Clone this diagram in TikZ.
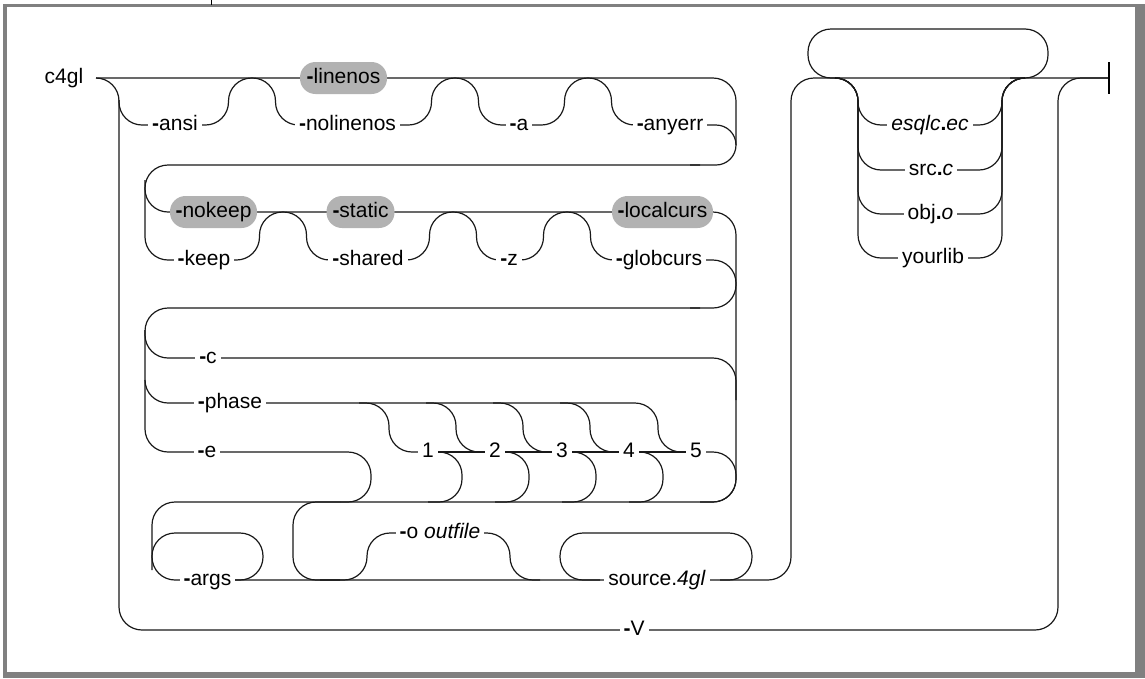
\documentclass[tikz,border=0pt]{standalone}
\usepackage{fontspec}
\setmainfont{Liberation Sans}
\newcommand{\dsh}{\textbf{-}}
\begin{document}
\begin{tikzpicture}[x=1pt,y=-1pt,
  track/.style={line width=1.2pt, black!90, rounded corners=23pt},
  lbl/.style={fill=white, inner xsep=4pt, inner ysep=0pt, text height=15pt, text depth=4pt, font=\fontsize{21}{24}\selectfont},
  pill/.style={fill=black!30, rounded corners=15.5pt, minimum height=32pt, inner xsep=0pt, inner ysep=0pt, text height=15pt, text depth=4pt, font=\fontsize{21}{24}\selectfont},
  framepart/.style={fill=black!50}]
\useasboundingbox (0,0) rectangle (1145,678);
% frame
\fill[framepart] (3,4) rectangle (1137,7);
\fill[framepart] (3,4) rectangle (6.5,675);
\fill[framepart] (1135,4) rectangle (1145,678);
\fill[framepart] (3,672) rectangle (1145,678);
\draw[line width=1.2pt] (211.5,0) -- (211.5,4.5);

% ---------- tracks ----------
% row 1
\draw[track] (96,78) -- (736,78) -- (736,145);
\draw[track] (96,78) -- (119,78) -- (119,630) -- (1058,630) -- (1058,78) -- (1109,78);
\draw[track] (119,100) -- (119,125) -- (228.5,125) -- (228.5,78) -- (275.5,78) -- (275.5,125) -- (431.5,125) -- (431.5,78) -- (478.5,78) -- (478.5,125) -- (564.5,125) -- (564.5,78) -- (611.5,78) -- (611.5,125) -- (700,125);
\draw[track, rounded corners=20pt] (690,125) -- (736,125) -- (736,165) -- (690,165);
% row 2
\draw[track] (700,165) -- (145,165) -- (145,260) -- (259.5,260) -- (259.5,212) -- (306.5,212) -- (306.5,260) -- (429.5,260) -- (429.5,212) -- (476.5,212) -- (476.5,260) -- (543.5,260) -- (543.5,212) -- (590.5,212) -- (590.5,260) -- (700,260);
\draw[track] (145,180) -- (145,212) -- (736,212) -- (736,502) -- (152,502) -- (152,580) -- (791,580) -- (791,78) -- (1109,78);
\draw[track] (690,260) -- (736,260) -- (736,308) -- (690,308);
% row 3
\draw[track] (700,308) -- (145,308) -- (145,452) -- (371,452) -- (371,502) -- (340,502);
\draw[track] (145,330) -- (145,358) -- (736,358) -- (736,400);
\draw[track] (145,380) -- (145,403) -- (658,403) -- (658,452) -- (736,452) -- (736,502) -- (700,502);
\foreach \n in {428,495,562,629} {
  \draw[track] (\n-69,403) -- (\n-39,403) -- (\n-39,452) -- (\n,452);
  \draw[track] (\n,452) -- (\n+34,452) -- (\n+34,502) -- (\n,502);
}
\draw[track] (428,452) -- (696,452);
% row 4
\draw[track] (340,502) -- (293,502) -- (293,580) -- (340,580);
\draw[track] (200,580) -- (263,580) -- (263,533) -- (152,533) -- (152,570);
\draw[track] (320,580) -- (367,580) -- (367,533) -- (510,533) -- (510,580) -- (540,580);
\draw[track] (600,580) -- (560,580) -- (560,533) -- (752,533) -- (752,580) -- (720,580);
% right part
\draw[track] (840,78) -- (808,78) -- (808,29) -- (1048,29) -- (1048,78) -- (1010,78);
\foreach \yy in {125,170,214,258} {
  \draw[track] (835,78) -- (858,78) -- (858,\yy) -- (1002,\yy) -- (1002,78) -- (1025,78);
}
\draw[line width=1.2pt] (1109,62) -- (1109,94);

% ---------- labels ----------
\node[lbl, fill=none] (c4gl) at (64,78) {c4gl};
\node[pill, minimum width=87pt] (linenos) at (343.5,78) {\dsh linenos};
\node[lbl] (ansi) at (175,125) {\dsh ansi};
\node[lbl] (nolinenos) at (347.5,125) {\dsh nolinenos};
\node[lbl] (a) at (519,125) {\dsh a};
\node[lbl] (anyerr) at (670,125) {\dsh anyerr};

\node[pill, minimum width=87pt] (nokeep) at (213.5,212) {\dsh nokeep};
\node[pill, minimum width=68pt] (static) at (360.5,212) {\dsh static};
\node[pill, minimum width=101pt] (localcurs) at (662.5,212) {\dsh localcurs};
\node[lbl] (keep) at (204,260) {\dsh keep};
\node[lbl] (shared) at (368,260) {\dsh shared};
\node[lbl] (z) at (509,260) {\dsh z};
\node[lbl] (globcurs) at (659,260) {\dsh globcurs};

\node[lbl] (c) at (208,358) {\dsh c};
\node[lbl] (phase) at (230,403) {\dsh phase};
\node[lbl] (e) at (207,452) {\dsh e};
\node[lbl] (n1) at (428,452) {1};
\node[lbl] (n2) at (495,452) {2};
\node[lbl] (n3) at (562,452) {3};
\node[lbl] (n4) at (629,452) {4};
\node[lbl] (n5) at (696,452) {5};

\node[lbl] (outfile) at (440,533) {\dsh o \textit{outfile}};
\node[lbl] (args) at (207.5,580) {\dsh args};
\node[lbl] (source) at (657,580) {source.\textit{4gl}};
\node[lbl] (V) at (634,630) {\dsh V};

\node[lbl] (esqlc) at (930,125) {\textit{esqlc}\textbf{.}\textit{ec}};
\node[lbl] (src) at (931,170) {src\textbf{.}\textit{c}};
\node[lbl] (obj) at (930.5,214) {obj\textbf{.}\textit{o}};
\node[lbl] (yourlib) at (933,258) {yourlib};
\end{tikzpicture}
\end{document}
